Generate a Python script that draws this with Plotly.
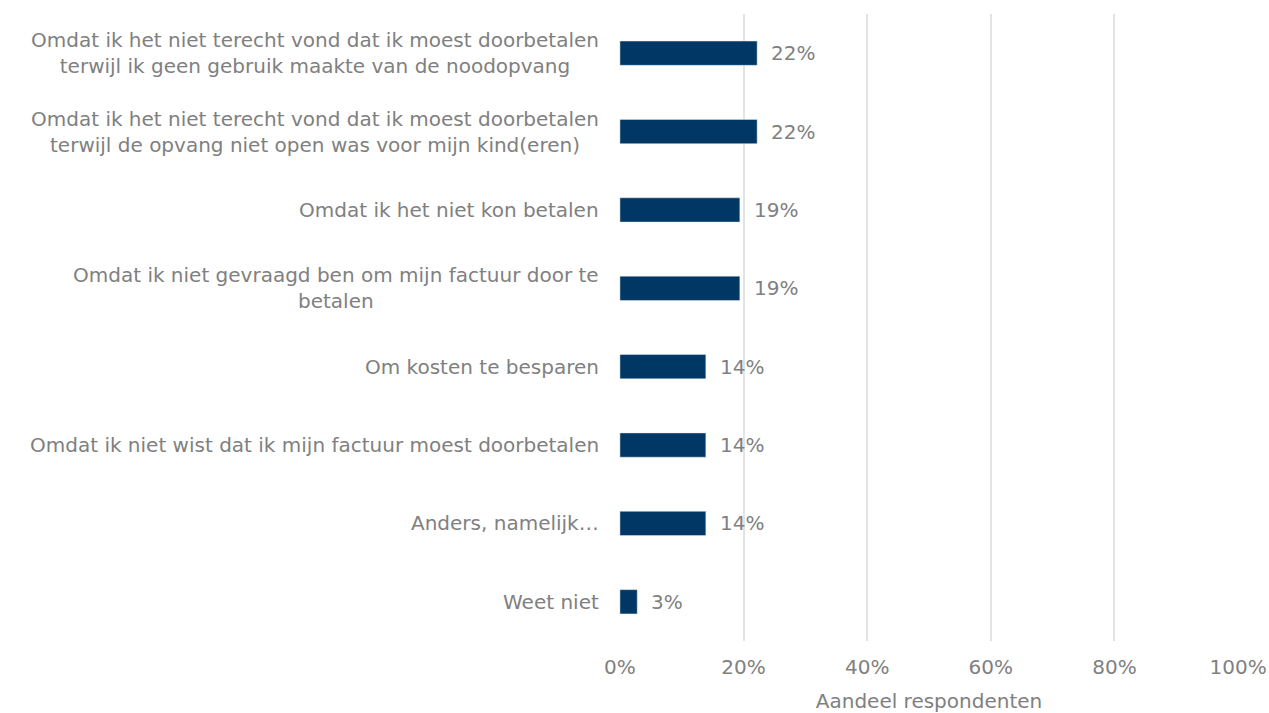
import plotly.graph_objects as go

categories = [
    "Omdat ik het niet terecht vond dat ik moest doorbetalen<br>terwijl ik geen gebruik maakte van de noodopvang",
    "Omdat ik het niet terecht vond dat ik moest doorbetalen<br>terwijl de opvang niet open was voor mijn kind(eren)",
    "Omdat ik het niet kon betalen",
    "Omdat ik niet gevraagd ben om mijn factuur door te<br>betalen",
    "Om kosten te besparen",
    "Omdat ik niet wist dat ik mijn factuur moest doorbetalen",
    "Anders, namelijk…",
    "Weet niet",
]
values = [22.2, 22.2, 19.4, 19.4, 13.9, 13.9, 13.9, 2.8]
value_labels = ["22%", "22%", "19%", "19%", "14%", "14%", "14%", "3%"]
ticks = [0, 20, 40, 60, 80, 100]

FONT = "DejaVu Sans, Verdana, sans-serif"
GREY = "#808080"
SIZE = 20

fig = go.Figure(
    go.Bar(
        x=values,
        y=categories,
        orientation="h",
        marker_color="#003764",
        width=0.31,
    )
)

annotations = []
for cat, val, lab in zip(categories, values, value_labels):
    # category label, lines centered, box right-aligned to the axis
    annotations.append(dict(
        x=0, xref="paper", y=cat, yref="y", text=cat, showarrow=False,
        xanchor="right", align="center", xshift=-18,
        font=dict(family=FONT, size=SIZE, color=GREY),
    ))
    annotations.append(dict(
        x=val, xref="x", y=cat, yref="y", text=lab, showarrow=False,
        xanchor="left", xshift=12,
        font=dict(family=FONT, size=SIZE, color=GREY),
    ))

fig.update_layout(
    width=1269,
    height=713,
    margin=dict(l=619, r=30, t=14, b=72, autoexpand=False),
    plot_bgcolor="white",
    paper_bgcolor="white",
    showlegend=False,
    annotations=annotations,
    font=dict(family=FONT, size=SIZE, color=GREY),
    xaxis=dict(
        # tiny padding so the 0% and 100% gridlines are not clipped at the edges
        range=[-0.15, 100.15],
        tickvals=ticks,
        ticktext=[f"{t}%" for t in ticks],
        showgrid=True,
        gridcolor="#e3e3e3",
        gridwidth=1.5,
        zeroline=False,
        showline=False,
        ticks="",
        automargin=False,
        ticklabelstandoff=12,
        title=dict(text="Aandeel respondenten", standoff=22,
                   font=dict(family=FONT, size=SIZE, color=GREY)),
        tickfont=dict(family=FONT, size=SIZE, color=GREY),
    ),
    yaxis=dict(
        autorange="reversed",
        showticklabels=False,
        showgrid=False,
        zeroline=False,
        showline=False,
        ticks="",
        automargin=False,
    ),
)

# drop the default 8px page margin so the figure fills the window exactly
fig.write_html(
    "out.html",
    config={"displayModeBar": False},
    post_script="document.body.style.margin='0';document.body.style.overflow='hidden';",
)
